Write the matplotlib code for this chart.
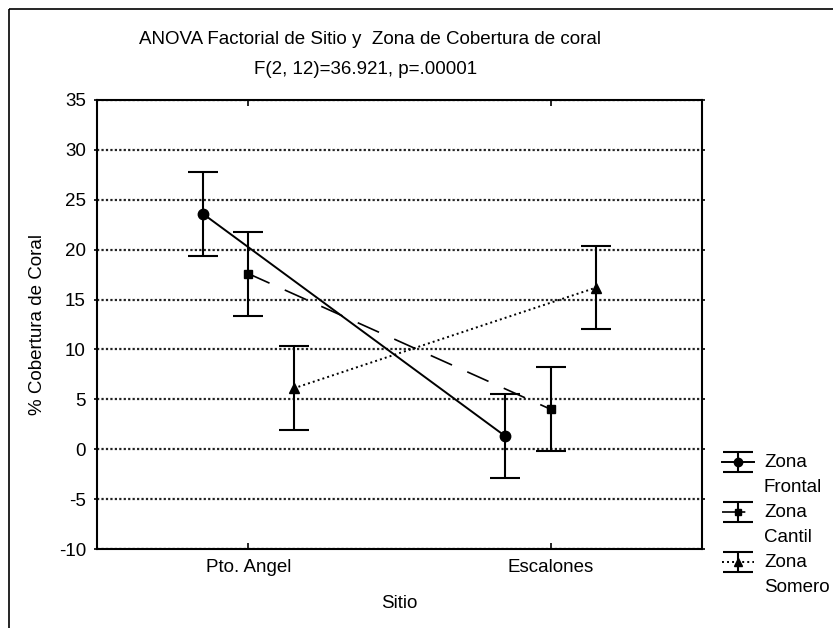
import matplotlib
matplotlib.use("Agg")
import matplotlib.pyplot as plt
from matplotlib.patches import Rectangle
import numpy as np

# data
sitios = ["Pto. Angel", "Escalones"]
zonas = ["Zona\nFrontal", "Zona\nCantil", "Zona\nSomero"]
frontal = [23.6, 1.3]
cantil = [17.6, 4.0]
somero = [6.1, 16.2]
frontal_ci = [4.2, 4.2]
cantil_ci = [4.2, 4.2]
somero_ci = [4.2, 4.2]
yticks = [-10, -5, 0, 5, 10, 15, 20, 25, 30, 35]

plt.rcParams["font.family"] = ["Liberation Sans", "DejaVu Sans"]
plt.rcParams["font.size"] = 13.5
plt.rcParams["axes.unicode_minus"] = False

W, H = 833, 628
fig = plt.figure(figsize=(W / 100, H / 100), dpi=100)

def px(x0, y0, x1, y1):
    # pixel box (top-left origin) -> figure fraction rect
    return [x0 / W, 1 - y1 / H, (x1 - x0) / W, (y1 - y0) / H]

ax = fig.add_axes(px(97, 100, 702, 549))

series = [
    (frontal, frontal_ci, "o", 7.5, "-", 1.4, -0.15),
    (cantil, cantil_ci, "s", 5.2, (0, (14, 10)), 1.2, 0.0),
    (somero, somero_ci, "^", 7.0, (0, (1, 1.6)), 1.4, 0.15),
]

x = np.arange(len(sitios))
for vals, ci, mk, ms, ls, lw, off in series:
    xs = x + off
    ax.plot(xs, vals, color="black", linestyle=ls, linewidth=lw, zorder=3)
    ax.errorbar(xs, vals, yerr=ci, fmt=mk, color="black", markersize=ms,
                elinewidth=1.5, capsize=11, capthick=1.5, zorder=4)

ax.set_xlim(-0.5, 1.5)
ax.set_ylim(-10, 35)
ax.set_xticks(x)
ax.set_xticklabels(sitios)
ax.set_yticks(yticks)
ax.tick_params(axis="x", direction="in", top=True, length=4, width=1.2, pad=7)
ax.tick_params(axis="y", direction="out", right=True, length=2, width=1.2, pad=6)
for s in ax.spines.values():
    s.set_linewidth(1.5)
ax.yaxis.grid(True, color="#222222", linestyle=(0, (1, 1)), linewidth=1.6)
ax.set_axisbelow(True)

ax.set_ylabel("% Cobertura de Coral", labelpad=9)
ax.set_xlabel("Sitio", labelpad=14)

fig.text(370 / W, 1 - 40 / H, "ANOVA Factorial de Sitio y  Zona de Cobertura de coral",
         ha="center", va="center")
fig.text(366 / W, 1 - 69 / H, "F(2, 12)=36.921, p=.00001", ha="center", va="center")

# overlay in pixel coordinates for the frame and the legend
ov = fig.add_axes([0, 0, 1, 1])
ov.set_xlim(0, W)
ov.set_ylim(H, 0)
ov.axis("off")
ov.add_patch(Rectangle((9, 9), 900, 700, fill=False, edgecolor="black", linewidth=1.2))

leg_y = [462, 512, 562]
for (vals, ci, mk, ms, ls, lw, off), lab, yy in zip(series, zonas, leg_y):
    ov.plot([722, 754], [yy, yy], color="black", linestyle=ls, linewidth=lw)
    ov.errorbar([738], [yy], yerr=[10], fmt=mk, color="black", markersize=ms * 0.8,
                elinewidth=1.5, capsize=11, capthick=1.5)
    ov.text(764, yy - 8, lab, ha="left", va="top", linespacing=1.62)

fig.savefig("out.png", dpi=100)
